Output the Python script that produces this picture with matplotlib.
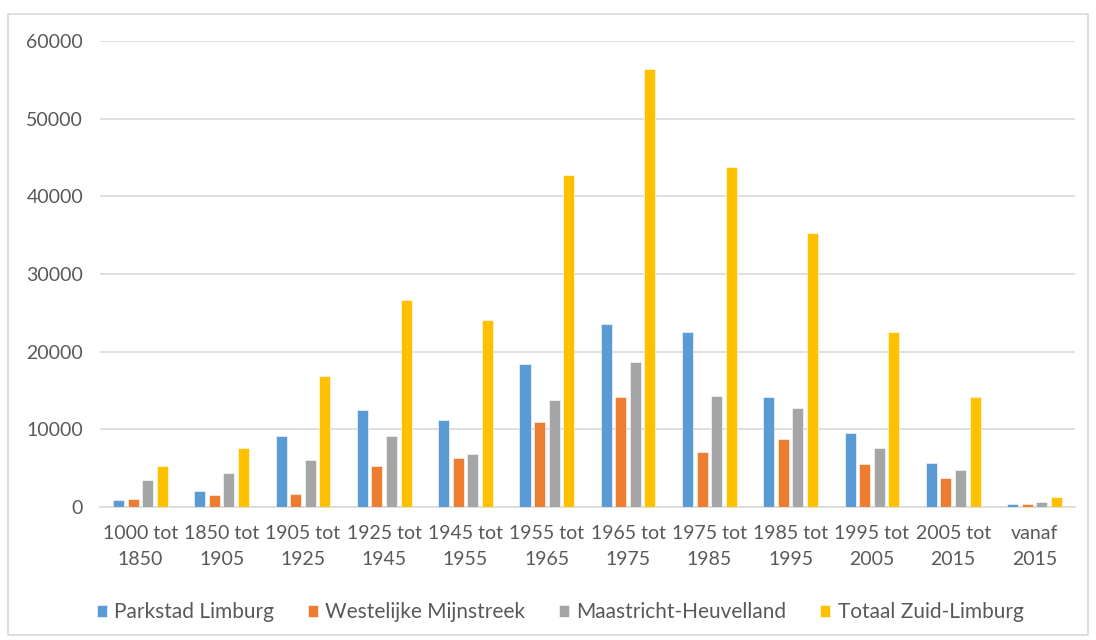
import numpy as np
import matplotlib.pyplot as plt
from matplotlib.patches import Rectangle

periods = ["1000 tot\n1850", "1850 tot\n1905", "1905 tot\n1925", "1925 tot\n1945",
           "1945 tot\n1955", "1955 tot\n1965", "1965 tot\n1975", "1975 tot\n1985",
           "1985 tot\n1995", "1995 tot\n2005", "2005 tot\n2015", "vanaf\n2015"]

parkstad = [860, 2100, 9180, 12450, 11200, 18400, 23590, 22480, 14160, 9480, 5700, 420]
westelijke = [1030, 1500, 1670, 5280, 6350, 10900, 14160, 7120, 8710, 5570, 3690, 420]
maastricht = [3500, 4340, 6050, 9180, 6820, 13730, 18700, 14320, 12780, 7630, 4760, 680]
totaal = [5280, 7600, 16860, 26640, 24070, 42730, 56370, 43760, 35270, 22480, 14160, 1330]

names = ["Parkstad Limburg", "Westelijke Mijnstreek", "Maastricht-Heuvelland", "Totaal Zuid-Limburg"]
colors = ["#5B9BD5", "#ED7D31", "#A5A5A5", "#FFC000"]

plt.rcParams['font.family'] = ['Lato', 'DejaVu Sans']

fig = plt.figure(figsize=(10.96, 6.4), dpi=100)
ax = fig.add_axes([0.091, 0.208, 0.890, 0.728])

# chart border
fig.patches.append(Rectangle((8/1096, 5/640), 1080/1096, 621/640, transform=fig.transFigure,
                             fill=False, edgecolor="#D9D9D9", linewidth=1.2))

x = np.arange(len(periods))
w = 0.136
step = 0.179
series = [parkstad, westelijke, maastricht, totaal]
for i, (vals, name, c) in enumerate(zip(series, names, colors)):
    ax.bar(x + (i - 1.5) * step, vals, width=w, color=c, label=name,
           edgecolor="white", linewidth=0.4, zorder=3)

ax.set_xlim(-0.5, len(periods) - 0.5)
ax.set_ylim(0, 60000)
ax.set_yticks(range(0, 60001, 10000))
ax.yaxis.grid(True, color="#D9D9D9", linewidth=1.2, zorder=0)
ax.set_xticks(x)
ax.set_xticklabels(periods, linespacing=1.65)
ax.tick_params(axis="both", length=0, labelsize=14, colors="#595959")
ax.tick_params(axis="x", pad=13)
ax.tick_params(axis="y", pad=12)
for s in ["top", "right", "left"]:
    ax.spines[s].set_visible(False)
ax.spines["bottom"].set_color("#D9D9D9")
ax.spines["bottom"].set_linewidth(1.2)

leg = fig.legend(loc="center", bbox_to_anchor=(560/1096, 1 - 612/640), ncol=4, frameon=False,
                 fontsize=15, handlelength=0.5, handleheight=0.5, handletextpad=0.35,
                 columnspacing=1.6)
for t in leg.get_texts():
    t.set_color("#595959")

fig.savefig("out.png", dpi=100)
